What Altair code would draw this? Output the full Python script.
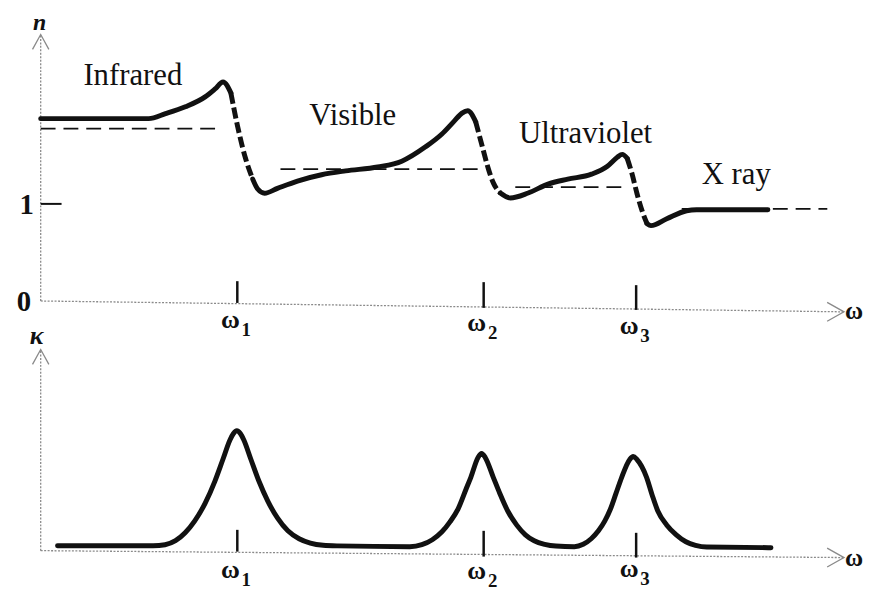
import altair as alt
import pandas as pd

FONT = "Liberation Serif"
INK = "#111111"
AXIS_GREY = "#8a8a8a"

# ------------------------------------------------------------------
# Upper panel: refractive index n(omega)
# solid stretches (normal dispersion)
ir_w = [0.000, 1.346, 1.556, 1.802, 2.049, 2.173, 2.272, 2.370]
ir_n = [1.878, 1.878, 1.929, 2.000, 2.102, 2.184, 2.255, 2.143]
vis_w = [2.642, 2.704, 2.790, 2.950, 3.200, 3.500, 3.800, 4.200, 4.500, 4.800, 5.000, 5.150, 5.250, 5.321, 5.420]
vis_n = [1.255, 1.153, 1.110, 1.160, 1.235, 1.300, 1.340, 1.380, 1.440, 1.590, 1.720, 1.850, 1.935, 1.959, 1.847]
uv_w = [5.728, 5.852, 6.074, 6.321, 6.568, 6.864, 7.062, 7.185, 7.247, 7.309]
uv_n = [1.112, 1.061, 1.112, 1.204, 1.255, 1.306, 1.388, 1.480, 1.510, 1.469]
xr_w = [7.556, 7.605, 7.802, 8.049, 8.173, 9.062]
xr_n = [0.796, 0.776, 0.847, 0.929, 0.939, 0.939]
# dashed stretches (anomalous dispersion)
d1_w = [2.370, 2.457, 2.556, 2.642]
d1_n = [2.143, 1.786, 1.459, 1.255]
d2_w = [5.420, 5.506, 5.580, 5.642, 5.728]
d2_n = [1.847, 1.582, 1.357, 1.214, 1.112]
d3_w = [7.309, 7.370, 7.432, 7.494, 7.556]
d3_n = [1.469, 1.306, 1.102, 0.929, 0.796]

# dashed reference levels
base_w0 = [0.000, 2.988, 5.914, 7.988]
base_w1 = [2.235, 5.506, 7.247, 9.802]
base_n = [1.776, 1.357, 1.173, 0.949]

region_labels = ["Infrared", "Visible", "Ultraviolet", "X ray"]
region_w = [1.148, 3.889, 6.790, 8.667]
region_n = [2.224, 1.816, 1.622, 1.204]

# resonance frequencies
res_w = [2.45, 5.52, 7.42]
res_sub = ["1", "2", "3"]
top_tick_lo = [-0.020, -0.071, -0.092]
top_tick_hi = [0.204, 0.194, 0.163]
top_lab_n = [-0.194, -0.224, -0.255]

n_tick_vals = [0, 1]
n_tick_text = ["0", "1"]

# ------------------------------------------------------------------
# Lower panel: extinction coefficient kappa(omega)
k_w = [0.210, 1.400, 1.550, 1.680, 1.800, 1.920, 2.050, 2.170, 2.270, 2.360, 2.400, 2.444, 2.490,
       2.530, 2.620, 2.720, 2.830, 2.950, 3.080, 3.220, 3.360, 3.520, 3.700,
       4.600, 4.750, 4.880, 5.000, 5.100, 5.200, 5.300, 5.360, 5.450, 5.494, 5.540, 5.640, 5.720,
       5.820, 5.930, 6.040, 6.150, 6.280, 6.420,
       6.650, 6.760, 6.860, 6.950, 7.030, 7.100, 7.170, 7.240, 7.340, 7.383, 7.430, 7.550, 7.620,
       7.690, 7.800, 7.920, 8.040, 8.160, 8.300, 9.100]
k_v = [0.025, 0.025, 0.030, 0.050, 0.090, 0.150, 0.240, 0.350, 0.460, 0.560, 0.590, 0.605, 0.590,
       0.560, 0.460, 0.350, 0.250, 0.165, 0.100, 0.060, 0.038, 0.027, 0.024,
       0.020, 0.030, 0.055, 0.095, 0.145, 0.210, 0.310, 0.370, 0.470, 0.490, 0.470, 0.370, 0.290,
       0.200, 0.130, 0.080, 0.050, 0.032, 0.023,
       0.020, 0.032, 0.060, 0.100, 0.150, 0.210, 0.290, 0.370, 0.460, 0.475, 0.460, 0.370, 0.280,
       0.200, 0.130, 0.080, 0.045, 0.027, 0.018, 0.015]
bot_tick_lo = [-0.005, -0.030, -0.035]
bot_tick_hi = [0.105, 0.100, 0.090]
bot_lab_k = [-0.100, -0.105, -0.095]

# ------------------------------------------------------------------
X = alt.Scale(domain=[-0.4074, 10.2469], nice=False, zero=False)
YN = alt.Scale(domain=[-2.949, 2.9898], nice=False, zero=False)
YK = alt.Scale(domain=[-0.185, 2.725], nice=False, zero=False)


def xq(f):
    return alt.X(f, type="quantitative", scale=X, axis=None)


def yq(f, s):
    return alt.Y(f, type="quantitative", scale=s, axis=None)


def segs(pairs):
    rows = []
    for k, (ws, vs) in enumerate(pairs):
        for i, (w, v) in enumerate(zip(ws, vs)):
            rows.append({"w": w, "v": v, "seg": k, "i": i})
    return pd.DataFrame(rows)


solid_df = segs([(ir_w, ir_n), (vis_w, vis_n), (uv_w, uv_n), (xr_w, xr_n)])
dash_df = segs([(d1_w, d1_n), (d2_w, d2_n), (d3_w, d3_n)])
base_df = pd.DataFrame({"w0": base_w0, "w1": base_w1, "n": base_n})
region_df = pd.DataFrame({"t": region_labels, "w": region_w, "n": region_n})
top_tick_df = pd.DataFrame({"w": res_w, "lo": top_tick_lo, "hi": top_tick_hi,
                            "lab": top_lab_n, "sub": res_sub, "om": ["ω"] * 3})
bot_tick_df = pd.DataFrame({"w": res_w, "lo": bot_tick_lo, "hi": bot_tick_hi,
                            "lab": bot_lab_k, "sub": res_sub, "om": ["ω"] * 3})
ntick_df = pd.DataFrame({"n": n_tick_vals, "t": n_tick_text, "xx": [-0.21, -0.175]})
kappa_df = pd.DataFrame({"w": k_w, "k": k_v})


def axes_layers(S, ytip, xaxis_end, label_y, sym, sym_y, sym_x, sym_size):
    """Arrowed axes for one panel (values in that panel's data units)."""
    ax = pd.DataFrame({"x0": [0.0, 0.0], "y0": [0.0, 0.0],
                       "x1": [0.0, 10.01], "y1": [ytip, xaxis_end]})
    lines = alt.Chart(ax).mark_rule(color=AXIS_GREY, strokeWidth=1.3, strokeDash=[2, 1.5]).encode(
        x=xq("x0"), y=yq("y0", S), x2="x1", y2="y1")
    up = alt.Chart(pd.DataFrame({"x": [0.0], "y": [ytip]})).mark_point(
        shape="M-0.55,1L0,0L0.55,1", filled=False, size=900, color=AXIS_GREY, strokeWidth=1.3,
        opacity=1).encode(x=xq("x"), y=yq("y", S))
    right = alt.Chart(pd.DataFrame({"x": [10.01], "y": [xaxis_end]})).mark_point(
        shape="M-1,-0.56L0,0L-1,0.56", filled=False, size=1156, color=AXIS_GREY, strokeWidth=1.3,
        opacity=1).encode(x=xq("x"), y=yq("y", S))
    omega = alt.Chart(pd.DataFrame({"x": [10.136], "y": [label_y], "t": ["ω"]})).mark_text(
        font=FONT, fontSize=25, fontWeight="bold", color=INK, align="center", baseline="middle").encode(
        x=xq("x"), y=yq("y", S), text="t:N")
    ylab = alt.Chart(pd.DataFrame({"x": [sym_x], "y": [sym_y], "t": [sym]})).mark_text(
        font=FONT, fontSize=sym_size, fontWeight="bold", fontStyle="italic", color=INK, align="center",
        baseline="middle").encode(x=xq("x"), y=yq("y", S), text="t:N")
    return [lines, up, right, omega, ylab]


def tick_layers(df, S):
    ticks = alt.Chart(df).mark_rule(color=INK, strokeWidth=2.5).encode(
        x=xq("w"), y=yq("lo", S), y2="hi")
    om = alt.Chart(df).mark_text(font=FONT, fontSize=26, fontWeight="bold", color=INK, dx=-7,
                                 align="center", baseline="middle").encode(
        x=xq("w"), y=yq("lab", S), text="om:N")
    sub = alt.Chart(df).mark_text(font=FONT, fontSize=19, fontWeight="bold", color=INK, dx=9, dy=10,
                                  align="center", baseline="middle").encode(
        x=xq("w"), y=yq("lab", S), text="sub:N")
    return [ticks, om, sub]


# ---------------- upper panel ----------------
top_axes = axes_layers(YN, 2.745, -0.112, -0.102, "n", 2.86, -0.012, 24)
curve_solid = alt.Chart(solid_df).mark_line(
    interpolate="monotone", strokeWidth=5, color=INK, strokeCap="round", strokeJoin="round").encode(
    x=xq("w"), y=yq("v", YN), detail="seg:N", order="i:Q")
curve_dash = alt.Chart(dash_df).mark_line(
    interpolate="monotone", strokeWidth=5, color=INK, strokeDash=[11, 4]).encode(
    x=xq("w"), y=yq("v", YN), detail="seg:N", order="i:Q")
baselines = alt.Chart(base_df).mark_rule(color=INK, strokeWidth=1.8, strokeDash=[15, 8]).encode(
    x=xq("w0"), x2="w1", y=yq("n", YN))
regions = alt.Chart(region_df).mark_text(font=FONT, fontSize=31, color=INK, align="center",
                                         baseline="alphabetic").encode(
    x=xq("w"), y=yq("n", YN), text="t:N")
one_tick = alt.Chart(pd.DataFrame({"a": [0.0], "b": [0.26], "n": [1.0]})).mark_rule(
    color=INK, strokeWidth=2).encode(x=xq("a"), x2="b", y=yq("n", YN))
n_labels = alt.Chart(ntick_df).mark_text(font=FONT, fontSize=29, fontWeight="bold", color=INK,
                                         align="center", baseline="middle", dy=1).encode(
    x=xq("xx"), y=yq("n", YN), text="t:N")

top = alt.layer(*top_axes, baselines, curve_solid, curve_dash, regions, one_tick, n_labels,
                *tick_layers(top_tick_df, YN))

# ---------------- lower panel ----------------
bot_axes = axes_layers(YK, 1.015, -0.035, -0.04, "κ", 1.085, -0.05, 26)
kappa = alt.Chart(kappa_df).mark_line(
    interpolate="monotone", strokeWidth=5, color=INK, strokeCap="round", strokeJoin="round").encode(
    x=xq("w"), y=yq("k", YK))
bottom = alt.layer(*bot_axes, kappa, *tick_layers(bot_tick_df, YK))

chart = alt.layer(top, bottom).resolve_scale(y="independent").properties(
    width=863, height=582, padding=0,
    autosize=alt.AutoSizeParams(type="none"),
).configure_view(stroke=None)

chart.save("out.html", embed_options={"renderer": "svg", "actions": False})
